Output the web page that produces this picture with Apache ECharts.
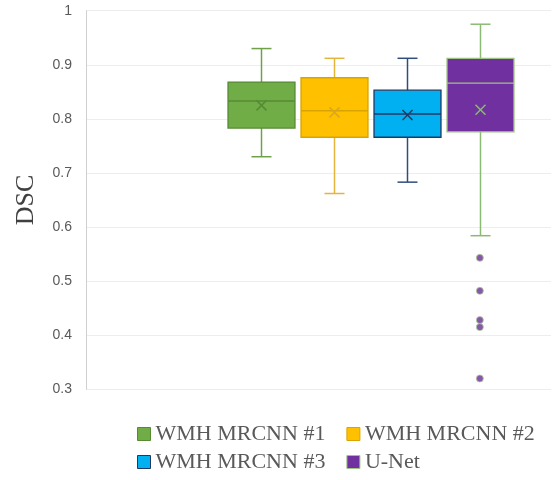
<!DOCTYPE html>
<html>
<head>
<meta charset="utf-8">
<script src="https://cdn.jsdelivr.net/npm/echarts@6/dist/echarts.min.js"></script>
<style>html,body{margin:0;padding:0;background:#fff}#c{width:558px;height:480px}</style>
</head>
<body>
<div id="c"></div>
<script>
// Series names
var seriesNames = ['WMH MRCNN #1', 'WMH MRCNN #2', 'WMH MRCNN #3', 'U-Net'];
// Box statistics: [min, Q1, median, Q3, max]
var statsM1 = [0.730, 0.783, 0.833, 0.868, 0.930];
var statsM2 = [0.662, 0.766, 0.815, 0.876, 0.912];
var statsM3 = [0.683, 0.766, 0.809, 0.853, 0.912];
var statsUNet = [0.584, 0.776, 0.866, 0.912, 0.975];
// Means
var means = [0.825, 0.812, 0.807, 0.817];
// U-Net outliers
var outliersUNet = [0.543, 0.482, 0.428, 0.415, 0.320];
// Y tick labels
var yTicks = ['0.3', '0.4', '0.5', '0.6', '0.7', '0.8', '0.9', '1'];

var allStats = [statsM1, statsM2, statsM3, statsUNet];
var fills = ['#70AD47', '#FFC000', '#00B0F0', '#7030A0'];
var borders = ['#578A35', '#D9A400', '#1F3864', '#9DC483'];
var whiskers = ['#6FA14B', '#E3B53A', '#2F4C7E', '#8DBA73'];
var meanCol = ['#578A35', '#D9A62A', '#1F3864', '#8DBA73'];

function slotX(i) { return 37.6 + i * 15.7; }

function makeRender(i) {
  return function (params, api) {
    var x = api.value(0);
    var mn = api.coord([x, api.value(1)]);
    var q1 = api.coord([x, api.value(2)]);
    var md = api.coord([x, api.value(3)]);
    var q3 = api.coord([x, api.value(4)]);
    var mx = api.coord([x, api.value(5)]);
    var me = api.coord([x, api.value(6)]);
    var halfW = api.size([14.4, 0])[0] / 2;
    var cx = Math.round(mn[0]) + 0.5;
    var cap = 10;
    var wStyle = { stroke: whiskers[i], lineWidth: 1.5 };
    var ms = 5;
    return {
      type: 'group',
      children: [
        { type: 'line', shape: { x1: cx, y1: mx[1], x2: cx, y2: q3[1] }, style: wStyle },
        { type: 'line', shape: { x1: cx, y1: q1[1], x2: cx, y2: mn[1] }, style: wStyle },
        { type: 'line', shape: { x1: cx - cap, y1: mx[1], x2: cx + cap, y2: mx[1] }, style: wStyle },
        { type: 'line', shape: { x1: cx - cap, y1: mn[1], x2: cx + cap, y2: mn[1] }, style: wStyle },
        { type: 'rect', shape: { x: cx - halfW, y: q3[1], width: halfW * 2, height: q1[1] - q3[1] },
          style: { fill: fills[i], stroke: borders[i], lineWidth: 1.3 } },
        { type: 'line', shape: { x1: cx - halfW, y1: md[1], x2: cx + halfW, y2: md[1] },
          style: { stroke: borders[i], lineWidth: 1.3 } },
        { type: 'line', shape: { x1: cx - ms, y1: me[1] - ms, x2: cx + ms, y2: me[1] + ms },
          style: { stroke: meanCol[i], lineWidth: 1.5 } },
        { type: 'line', shape: { x1: cx - ms, y1: me[1] + ms, x2: cx + ms, y2: me[1] - ms },
          style: { stroke: meanCol[i], lineWidth: 1.5 } }
      ]
    };
  };
}

var series = seriesNames.map(function (name, i) {
  return {
    name: name,
    type: 'custom',
    renderItem: makeRender(i),
    itemStyle: { color: fills[i], borderColor: borders[i], borderWidth: 1 },
    encode: { x: 0, y: [1, 2, 3, 4, 5] },
    data: [[slotX(i)].concat(allStats[i]).concat([means[i]])],
    z: 3
  };
});
series.push({
  name: 'U-Net outliers',
  type: 'scatter',
  symbol: 'circle',
  symbolSize: 7,
  itemStyle: { color: '#6A2D96', borderColor: '#A9CD93', borderWidth: 1 },
  data: outliersUNet.map(function (v) { return [slotX(3), v]; }),
  z: 4
});

var legendText = { fontFamily: 'Liberation Serif', fontSize: 22, color: '#595959' };
function legendItem(i) {
  return { name: seriesNames[i], icon: 'rect',
    itemStyle: { color: fills[i], borderColor: borders[i], borderWidth: 1 } };
}

var chart = echarts.init(document.getElementById('c'), null, { renderer: 'canvas' });
chart.setOption({
  animation: false,
  grid: { left: 86, right: 7, top: 10.7, bottom: 90.7 },
  xAxis: { type: 'value', min: 0, max: 100, show: false },
  yAxis: {
    type: 'value', min: 0.3, max: 1, interval: 0.1,
    name: 'DSC', nameLocation: 'middle', nameGap: 47,
    nameTextStyle: { fontFamily: 'Liberation Serif', fontSize: 26, color: '#404040' },
    axisLine: { show: true, lineStyle: { color: '#D0D0D0', width: 1 } },
    axisTick: { show: false },
    axisLabel: {
      margin: 14, fontFamily: 'Liberation Sans', fontSize: 14, color: '#595959',
      formatter: function (v) { return yTicks[Math.round((v - 0.3) * 10)]; }
    },
    splitLine: { lineStyle: { color: '#EDEDED', width: 1 } }
  },
  legend: [
    { data: [legendItem(0), legendItem(1)], left: 137, top: 423, padding: 0, itemWidth: 13, itemHeight: 13,
      itemGap: 21, textStyle: legendText, selectedMode: false },
    { data: [legendItem(2), legendItem(3)], left: 137, top: 451, padding: 0, itemWidth: 13, itemHeight: 13,
      itemGap: 21, textStyle: legendText, selectedMode: false }
  ],
  series: series
});
</script>
</body>
</html>
